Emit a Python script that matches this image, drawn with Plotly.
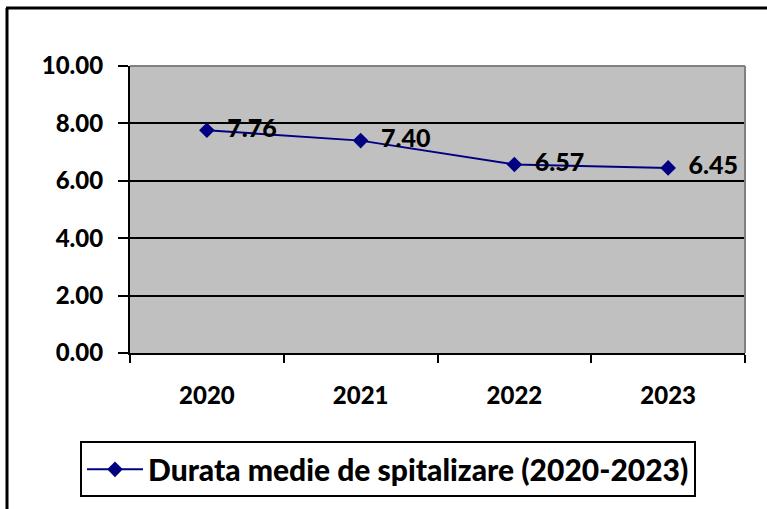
import plotly.graph_objects as go

years = ["2020", "2021", "2022", "2023"]
values = [7.76, 7.40, 6.57, 6.45]
labels = ["7.76", "7.40", "6.57", "6.45"]
y_ticks = [0, 2, 4, 6, 8, 10]
y_tick_text = ["0.00", "2.00", "4.00", "6.00", "8.00", "10.00"]
series_name = "Durata medie de spitalizare (2020-2023)"

FONT = "Lato"
W, H = 767, 509
L, R, T, B = 130, 22, 66, 155.5

fig = go.Figure()
fig.add_trace(go.Scatter(
    x=years, y=values, mode="lines+markers+text",
    name=series_name,
    text=["  " + t for t in labels],
    textposition="middle right",
    textfont=dict(family=FONT, size=25, color="black", weight=900),
    line=dict(color="#000080", width=2),
    marker=dict(symbol="diamond", size=12, color="#000080"),
    cliponaxis=False,
))

fig.update_layout(
    width=W, height=H, autosize=False,
    margin=dict(l=L, r=R, t=T, b=B, pad=0),
    paper_bgcolor="white", plot_bgcolor="#C0C0C0",
    font=dict(family=FONT, color="black"),
    showlegend=True,
    legend=dict(
        x=(80 - L) / (W - L - R), y=(353.5 - 442) / (H - T - B),
        xanchor="left", yanchor="top",
        bordercolor="black", borderwidth=2, bgcolor="white",
        font=dict(family=FONT, size=30, color="black", weight=900),
        itemwidth=56,
    ),
    xaxis=dict(
        type="category", showgrid=False,
        showline=True, linecolor="black", linewidth=2,
        ticks="outside", tickson="boundaries", ticklen=8, tickwidth=2, tickcolor="black",
        tickfont=dict(family=FONT, size=24, color="black", weight=900),
        ticklabelstandoff=20,
        range=[-0.5, 3.5],
    ),
    yaxis=dict(
        range=[0, 10], tickvals=y_ticks, ticktext=y_tick_text,
        showgrid=True, gridcolor="black", gridwidth=2,
        showline=True, linecolor="black", linewidth=2,
        ticks="outside", ticklen=10, tickwidth=2, tickcolor="black",
        tickfont=dict(family=FONT, size=24, color="black", weight=900),
        ticklabelstandoff=10,
        zeroline=False,
    ),
)

# plot area top/right gray border
fig.add_shape(type="line", xref="paper", yref="paper", x0=0, x1=1, y0=1, y1=1,
              line=dict(color="#808080", width=2))
fig.add_shape(type="line", xref="paper", yref="paper", x0=1, x1=1, y0=0, y1=1,
              line=dict(color="#808080", width=2))

# outer chart border (top and left visible)
px = lambda v: (v - L) / (W - L - R)
py = lambda v: (H - B - v) / (H - T - B)
fig.add_shape(type="line", xref="paper", yref="paper", x0=px(6), x1=px(W + 5), y0=py(8), y1=py(8),
              line=dict(color="black", width=3))
fig.add_shape(type="line", xref="paper", yref="paper", x0=px(7), x1=px(7), y0=py(8), y1=py(H + 5),
              line=dict(color="black", width=3))

fig.write_html("out.html", post_script="document.body.style.margin='0';",
               config={"displayModeBar": False})
